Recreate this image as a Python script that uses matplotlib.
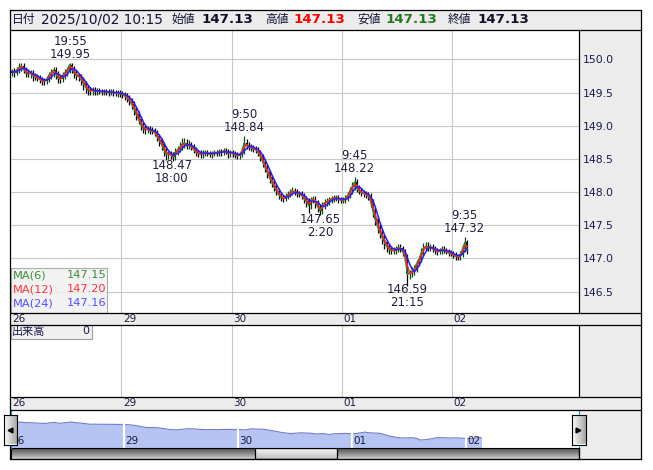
import numpy as np
import pandas as pd
import matplotlib
matplotlib.use("Agg")
import matplotlib.pyplot as plt
import matplotlib.transforms as mtransforms
from matplotlib.patches import Rectangle
from matplotlib.lines import Line2D
from matplotlib.colors import LinearSegmentedColormap

plt.rcParams['font.family'] = ['DejaVu Sans', 'Noto Sans CJK JP']

# 30分足 終値 (26日 7:00 から)
closes = [
    149.82, 149.80, 149.84, 149.88, 149.90, 149.85, 149.80, 149.78, 149.80, 149.76, 149.74, 149.72,
    149.70, 149.68, 149.67, 149.70, 149.76, 149.80, 149.84, 149.78, 149.72, 149.70, 149.76, 149.80,
    149.84, 149.92, 149.86, 149.80, 149.76, 149.74, 149.70, 149.64, 149.58, 149.54, 149.52, 149.54,
    149.52, 149.53, 149.52, 149.51, 149.52, 149.51, 149.50, 149.51, 149.50, 149.49, 149.50, 149.48,
    149.47, 149.45, 149.42, 149.38, 149.33, 149.25, 149.18, 149.10, 149.02, 148.96, 148.94, 148.95,
    148.93, 148.92, 148.90, 148.84, 148.78, 148.72, 148.64, 148.57, 148.58, 148.56, 148.53, 148.60,
    148.64, 148.68, 148.72, 148.74, 148.70, 148.71, 148.68, 148.64, 148.60, 148.58, 148.57, 148.59,
    148.60, 148.58, 148.57, 148.58, 148.60, 148.59, 148.61, 148.60, 148.62, 148.61, 148.58, 148.60,
    148.58, 148.56, 148.55, 148.57, 148.62, 148.74, 148.70, 148.68, 148.67, 148.65, 148.64, 148.60,
    148.54, 148.46, 148.38, 148.30, 148.22, 148.15, 148.08, 148.02, 147.96, 147.92, 147.90, 147.93,
    147.96, 147.99, 148.02, 148.00, 147.98, 147.97, 147.95, 147.90, 147.86, 147.80, 147.88, 147.90,
    147.84, 147.78, 147.72, 147.80, 147.84, 147.86, 147.88, 147.90, 147.91, 147.92, 147.89, 147.88,
    147.88, 147.90, 147.95, 148.02, 148.08, 148.15, 148.06, 148.02, 147.99, 147.98, 147.96, 147.94,
    147.86, 147.72, 147.60, 147.48, 147.40, 147.32, 147.24, 147.18, 147.14, 147.12, 147.12, 147.14,
    147.16, 147.15, 147.10, 147.02, 146.76, 146.78, 146.80, 146.84, 146.92, 146.98, 147.08, 147.16,
    147.18, 147.16, 147.17, 147.14, 147.12, 147.10, 147.12, 147.14, 147.12, 147.10, 147.08, 147.07,
    147.05, 147.03, 147.02, 147.06, 147.14, 147.24, 147.13,
]
first_open = 149.80

# ヒゲの長さ (pips)
wick_hi = [
    4, 5, 5, 6, 4, 4, 4, 5, 4, 4, 4, 4,
    4, 4, 4, 5, 5, 5, 5, 4, 4, 5, 5, 5,
    5, 3, 2, 4, 4, 4, 4, 4, 4, 4, 4, 4,
    4, 4, 4, 4, 4, 4, 4, 4, 4, 4, 4, 4,
    4, 4, 4, 4, 4, 4, 4, 4, 4, 4, 5, 5,
    5, 5, 5, 4, 4, 4, 4, 5, 4, 4, 5, 6,
    6, 7, 9, 8, 6, 7, 5, 5, 4, 4, 5, 4,
    4, 4, 4, 4, 4, 4, 4, 4, 4, 4, 4, 4,
    4, 4, 4, 4, 6, 10, 6, 5, 5, 4, 4, 4,
    4, 4, 4, 4, 4, 4, 4, 4, 4, 4, 4, 5,
    5, 5, 5, 4, 4, 4, 4, 4, 4, 5, 5, 4,
    4, 4, 4, 5, 5, 5, 4, 4, 4, 4, 4, 4,
    4, 5, 5, 6, 7, 7, 5, 4, 4, 4, 4, 4,
    4, 4, 4, 4, 4, 4, 4, 4, 4, 5, 5, 5,
    5, 5, 4, 4, 4, 5, 7, 6, 6, 6, 7, 7,
    6, 6, 5, 5, 4, 4, 4, 4, 4, 4, 4, 4,
    4, 4, 4, 5, 6, 8, 4,
]
wick_lo = [
    5, 6, 4, 4, 5, 6, 7, 5, 6, 8, 5, 5,
    5, 6, 5, 4, 4, 5, 6, 7, 8, 6, 4, 5,
    5, 4, 6, 8, 7, 6, 8, 10, 8, 7, 6, 5,
    5, 5, 4, 5, 5, 4, 5, 4, 5, 4, 5, 5,
    5, 6, 6, 7, 8, 8, 9, 8, 8, 7, 6, 5,
    5, 5, 6, 7, 8, 8, 9, 8, 7, 6, 6, 4,
    4, 4, 5, 5, 5, 5, 5, 5, 5, 5, 5, 5,
    5, 4, 4, 5, 4, 4, 4, 5, 4, 4, 6, 5,
    5, 5, 5, 5, 4, 4, 5, 5, 5, 5, 5, 6,
    7, 8, 8, 9, 8, 8, 7, 7, 6, 6, 5, 4,
    4, 4, 4, 5, 5, 5, 6, 7, 8, 12, 6, 5,
    8, 8, 7, 5, 5, 5, 5, 5, 5, 4, 5, 5,
    5, 5, 4, 4, 5, 5, 6, 5, 5, 5, 5, 6,
    8, 10, 10, 10, 9, 10, 10, 9, 8, 6, 5, 6,
    5, 6, 7, 8, 17, 7, 6, 5, 5, 4, 4, 4,
    5, 5, 5, 5, 5, 5, 4, 5, 4, 4, 5, 4,
    5, 5, 4, 4, 4, 4, 7,
]

day_labels = ['26', '29', '30', '01', '02']
bars_per_day = 48

# 高値・安値の注記
ann_day = [0, 1, 2, 2, 3, 3, 4]
ann_time = ['19:55', '18:00', '9:50', '2:20', '9:45', '21:15', '9:35']
ann_price = [149.95, 148.47, 148.84, 147.65, 148.22, 146.59, 147.32]
ann_kind = ['high', 'low', 'high', 'low', 'high', 'low', 'high']

ma_periods = [6, 12, 24]
ma_values = [147.15, 147.20, 147.16]
ma_colors = ['#2f8a2f', '#ff2020', '#2020ff']
ma_text_colors = ['#3c8c3c', '#ff3040', '#5050ff']

header_time = '2025/10/02 10:15'
ohlc_last = [147.13, 147.13, 147.13, 147.13]

price_ticks = [146.5, 147.0, 147.5, 148.0, 148.5, 149.0, 149.5, 150.0]

W, H = 653, 470


def box(x0, y0, x1, y1):
    return [x0 / W, 1 - y1 / H, (x1 - x0) / W, (y1 - y0) / H]


def fx(x):
    return x / W


def fy(y):
    return 1 - y / H


fig = plt.figure(figsize=(W / 100, H / 100), dpi=100)
fig.patch.set_facecolor('white')

# 全体の灰色背景
fig.add_artist(Rectangle((fx(10), fy(459)), 631 / W, 449 / H, transform=fig.transFigure,
                         facecolor='#ececec', edgecolor='none', zorder=-5))

c = np.array(closes)
o = np.array([first_open] + closes[:-1])
hi = np.maximum(o, c) + np.array(wick_hi) / 100
lo = np.minimum(o, c) - np.array(wick_lo) / 100
n = len(c)
x = np.arange(n) + 0.5
day_starts = np.arange(len(day_labels)) * bars_per_day

px_per_day = 110.3
main_xlim = (0, (579 - 11) / px_per_day * bars_per_day)

# メインチャート
ax = fig.add_axes(box(11, 29.5, 579, 312.5))
ax.set_xlim(*main_xlim)
ax.set_ylim(146.184, 150.452)
ax.set_xticks(day_starts[1:])
ax.set_yticks(price_ticks)
ax.set_yticklabels([f'{t:.1f}' for t in price_ticks])
ax.grid(True, color='#c8c8c8', lw=0.8)
ax.set_axisbelow(True)
ax.tick_params(axis='x', length=0, labelbottom=False)
ax.tick_params(axis='y', length=0, pad=3, labelsize=7.8, labelcolor='#1a1a50',
               left=False, labelleft=False, right=True, labelright=True)
for s in ax.spines.values():
    s.set_visible(False)

up = c >= o
col = np.where(up, '#0a4a0a', '#000000')
ax.vlines(x, lo, hi, colors=col, lw=0.9, zorder=2)
ax.bar(x, np.maximum(np.abs(c - o), 0.008), bottom=np.minimum(o, c), width=0.78,
       color=col, lw=0, zorder=2)

s_close = pd.Series(closes)
for p, mc in zip(ma_periods, ma_colors):
    w = max(1, round(p * 5 / 30))
    ma = s_close.rolling(w, min_periods=1).mean()
    ax.plot(x, ma, color=mc, lw=1.1, zorder=3)

for d, t, pr, k in zip(ann_day, ann_time, ann_price, ann_kind):
    hh, mm = map(int, t.split(':'))
    pos = d * bars_per_day + ((hh * 60 + mm - 7 * 60) % 1440) / 30
    if k == 'high':
        ax.annotate(f'{t}\n{pr:.2f}', xy=(pos, pr), xytext=(0, 1.5), textcoords='offset points',
                    ha='center', va='bottom', fontsize=8.5, linespacing=1.0, color='#202040', zorder=5)
    else:
        ax.annotate(f'{pr:.2f}\n{t}', xy=(pos, pr), xytext=(0, 1.5), textcoords='offset points',
                    ha='center', va='top', fontsize=8.5, linespacing=1.0, color='#202040', zorder=5)

# MA 凡例
fig.add_artist(Rectangle((fx(11), fy(312.5)), 96 / W, 44.5 / H, transform=fig.transFigure,
                         facecolor='#f0f0f0', alpha=0.85, edgecolor='#a0a0a0', lw=0.8, zorder=4))
for i, (p, v, tc) in enumerate(zip(ma_periods, ma_values, ma_text_colors)):
    yy = 275.5 + i * 14
    fig.text(fx(12.5), fy(yy), f'MA({p})', color=tc, fontsize=8.2, va='center', ha='left', zorder=5)
    fig.text(fx(106), fy(yy), f'{v:.2f}', color=tc, fontsize=8.2, va='center', ha='right', zorder=5)

# 出来高
axv = fig.add_axes(box(11, 324.5, 579, 397))
axv.set_xlim(*main_xlim)
axv.set_xticks(day_starts[1:])
axv.set_yticks([])
axv.grid(True, axis='x', color='#c8c8c8', lw=0.8)
axv.tick_params(axis='x', length=0, labelbottom=False)
for s in axv.spines.values():
    s.set_visible(False)
fig.add_artist(Rectangle((fx(11), fy(339)), 80.5 / W, 14.5 / H, transform=fig.transFigure,
                         facecolor='#f0f0f0', edgecolor='#a0a0a0', lw=0.8, zorder=4))
fig.text(fx(12), fy(331.5), '出来高', fontsize=8, color='#1a1a50', va='center', zorder=5)
fig.text(fx(89.5), fy(331.5), '0', fontsize=8, color='#1a1a50', va='center', ha='right', zorder=5)

# 日付帯
for ystrip in (318.5, 403.5):
    tr = mtransforms.blended_transform_factory(ax.transData, fig.transFigure)
    tr = mtransforms.offset_copy(tr, fig=fig, x=1.5, y=0, units='dots')
    for ds, lab in zip(day_starts, day_labels):
        fig.text(ds, fy(ystrip), lab, transform=tr, fontsize=7.5, color='#1a1a40',
                 va='center', ha='left', zorder=5)

# ナビゲーター
nav_ylim = (145.36, 152.02)
nav_px_per_day = 114
axn = fig.add_axes(box(11, 410, 579, 448))
axn.set_xlim((11 - 10) / nav_px_per_day * bars_per_day, (579 - 10) / nav_px_per_day * bars_per_day)
axn.set_ylim(*nav_ylim)
axn.fill_between(x, c, nav_ylim[0], color='#b6c4f4', lw=0)
axn.plot(x, c, color='#6f7cc4', lw=0.8)
for ds in day_starts[1:]:
    axn.axvline(ds, color='white', lw=1.6)
trn = mtransforms.offset_copy(axn.get_xaxis_transform(), fig=fig, x=1.5, y=0, units='dots')
for ds, lab in zip(day_starts, day_labels):
    axn.text(ds, 0.18, lab, transform=trn, fontsize=7.5, color='#1a1a40', va='center', ha='left')
axn.set_xticks([])
axn.set_yticks([])
for s in axn.spines.values():
    s.set_visible(False)
for xx in (11, 579):
    fig.add_artist(Line2D([fx(xx), fx(xx)], [fy(410), fy(448)], transform=fig.transFigure,
                          color='#1aa0d8', lw=0.9, zorder=6))

# スクロールバー
axs = fig.add_axes(box(11, 448, 579, 459))
grad = np.linspace(0, 1, 32).reshape(-1, 1)
axs.imshow(grad, aspect='auto', extent=(0, 1, 0, 1), origin='upper',
           cmap=LinearSegmentedColormap.from_list('sb', ['#505050', '#8c8c8c', '#d0d0d0']))
thumb_l, thumb_r = (255 - 11) / 568, (337 - 11) / 568
axs.imshow(grad, aspect='auto', extent=(thumb_l, thumb_r, 0, 1), origin='upper',
           cmap=LinearSegmentedColormap.from_list('th', ['#f6f6f6', '#c0c0c0']))
axs.add_patch(Rectangle((thumb_l, 0), thumb_r - thumb_l, 1, fill=False, edgecolor='black', lw=0.9))
axs.set_xlim(0, 1)
axs.set_ylim(0, 1)
axs.set_xticks([])
axs.set_yticks([])
for s in axs.spines.values():
    s.set_color('black')
    s.set_linewidth(0.8)

# ナビゲーターのボタン
btn_cmap = LinearSegmentedColormap.from_list('btn', ['#fbfbfb', '#a8a8a8'])
for (bx0, bx1), mk in (((4, 16.5), '<'), ((572, 585.5), '>')):
    axb = fig.add_axes(box(bx0, 414.5, bx1, 444.5), zorder=7)
    axb.imshow(np.linspace(0, 1, 16).reshape(1, -1), aspect='auto', extent=(0, 1, 0, 1), cmap=btn_cmap)
    axb.plot(0.45, 0.5, marker=mk, ms=3.5, color='black')
    axb.set_xlim(0, 1)
    axb.set_ylim(0, 1)
    axb.set_xticks([])
    axb.set_yticks([])
    for s in axb.spines.values():
        s.set_color('black')
        s.set_linewidth(0.8)

# 枠線
def hline(y, x0=10, x1=641):
    fig.add_artist(Line2D([fx(x0), fx(x1)], [fy(y), fy(y)], transform=fig.transFigure,
                          color='black', lw=0.9, zorder=6))


def vline(xx, y0, y1):
    fig.add_artist(Line2D([fx(xx), fx(xx)], [fy(y0), fy(y1)], transform=fig.transFigure,
                          color='black', lw=0.9, zorder=6))


for yy in (10, 29.5, 312.5, 324.5, 397, 410, 459):
    hline(yy)
vline(10, 10, 459)
vline(641, 10, 459)
vline(579, 29.5, 312.5)
vline(579, 324.5, 397)
vline(579, 448, 459)

# ヘッダー
yh = fy(19.5)
navy = '#141438'
fig.text(fx(12), yh, '日付', fontsize=8.5, color=navy, va='center')
fig.text(fx(41), yh, header_time, fontsize=9.8, color=navy, va='center')
head_items = [('始値', 172, 201, '#101028'), ('高値', 265, 293, '#ff0000'),
              ('安値', 357, 385, '#237a23'), ('終値', 448, 477, '#101028')]
for (lab, lx, vx, vc), val in zip(head_items, ohlc_last):
    fig.text(fx(lx), yh, lab, fontsize=8.5, color=navy, va='center')
    fig.text(fx(vx), yh, f'{val:.2f}', fontsize=9.6, fontweight='bold', color=vc, va='center')

fig.savefig('out.png', dpi=100)
